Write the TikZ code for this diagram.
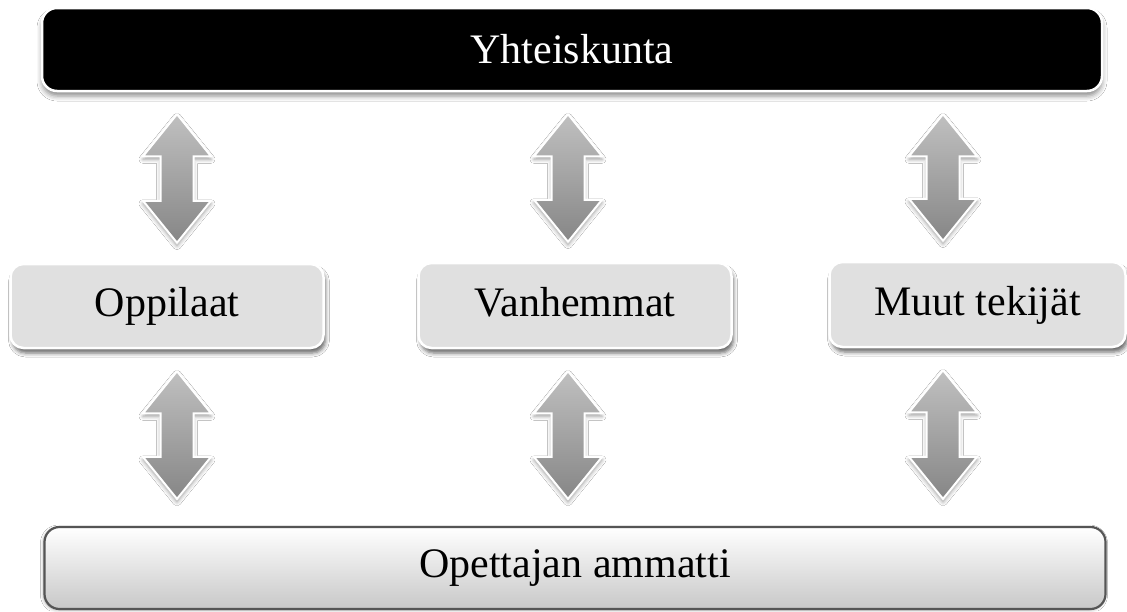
\documentclass[tikz,border=0pt]{standalone}
\usepackage{fontspec}
\setmainfont{Liberation Serif}
\usetikzlibrary{calc,shadows.blur}
\definecolor{boxgray}{RGB}{224,224,224}
\definecolor{arrtop}{RGB}{192,192,192}
\definecolor{arrbot}{RGB}{134,134,134}
\definecolor{botborder}{RGB}{85,85,85}
\definecolor{botlow}{RGB}{200,200,200}
\tikzset{
  lbl/.style={font=\fontsize{42}{50}\selectfont, inner sep=0pt},
  topbox/.style={lbl, rounded corners=15pt, fill=black, draw=white, line width=2.5pt, text=white,
     blur shadow={shadow xshift=0pt, shadow yshift=-5pt, shadow blur radius=5pt, shadow opacity=45}},
  midbox/.style={lbl, text height=30pt, text depth=9pt, rounded corners=13pt, fill=boxgray, draw=white, line width=2.5pt,
     blur shadow={shadow xshift=2pt, shadow yshift=-5pt, shadow blur radius=4pt, shadow opacity=60}},
  botbox/.style={lbl, rounded corners=15pt, top color=white, bottom color=botlow, draw=botborder, line width=2.2pt,
     blur shadow={shadow xshift=-1pt, shadow yshift=-1pt, shadow blur radius=3pt, shadow opacity=35}},
  arr/.style={top color=arrtop, bottom color=arrbot, draw=white, line width=2pt, line join=miter,
     blur shadow={shadow xshift=0pt, shadow yshift=-3pt, shadow blur radius=4pt, shadow opacity=40}}
}
% #1 upper node, #2 lower node, #3 x position, #4 gap below upper node, #5 gap above lower node
\newcommand\bidir[5]{%
  \shadedraw[arr] let \p1=(#1.south), \p2=(#2.north) in
    (#3pt,\y1-#4pt) -- (#3pt+34pt,\y1-#4pt-42pt) -- (#3pt+16.5pt,\y1-#4pt-42pt)
    -- (#3pt+16.5pt,\y2+#5pt+42pt) -- (#3pt+34pt,\y2+#5pt+42pt) -- (#3pt,\y2+#5pt)
    -- (#3pt-34pt,\y2+#5pt+42pt) -- (#3pt-16.5pt,\y2+#5pt+42pt)
    -- (#3pt-16.5pt,\y1-#4pt-42pt) -- (#3pt-34pt,\y1-#4pt-42pt) -- cycle;}
\begin{document}
\begin{tikzpicture}[x=1pt,y=-1pt]
\useasboundingbox[fill=white] (0,0) rectangle (1127,611);
\node[topbox, minimum width=1060pt, minimum height=83pt] (top) at (572,49.5) {Yhteiskunta};
\node[midbox, minimum width=313pt, minimum height=84pt] (opp) at (167,306) {Oppilaat};
\node[midbox, minimum width=313pt, minimum height=85pt] (van) at (575,305.5) {Vanhemmat};
\node[midbox, minimum width=296pt, minimum height=85pt] (muu) at (977.5,304.5) {Muut tekijät};
\node[botbox, minimum width=1061pt, minimum height=82pt] (bot) at (575,568) {Opettajan ammatti};
\bidir{top}{opp}{177}{22}{20}
\bidir{top}{van}{568}{22}{20}
\bidir{top}{muu}{943}{22}{20}
\bidir{opp}{bot}{177}{22}{27}
\bidir{van}{bot}{568}{22}{27}
\bidir{muu}{bot}{943}{22}{27}
\end{tikzpicture}
\end{document}
